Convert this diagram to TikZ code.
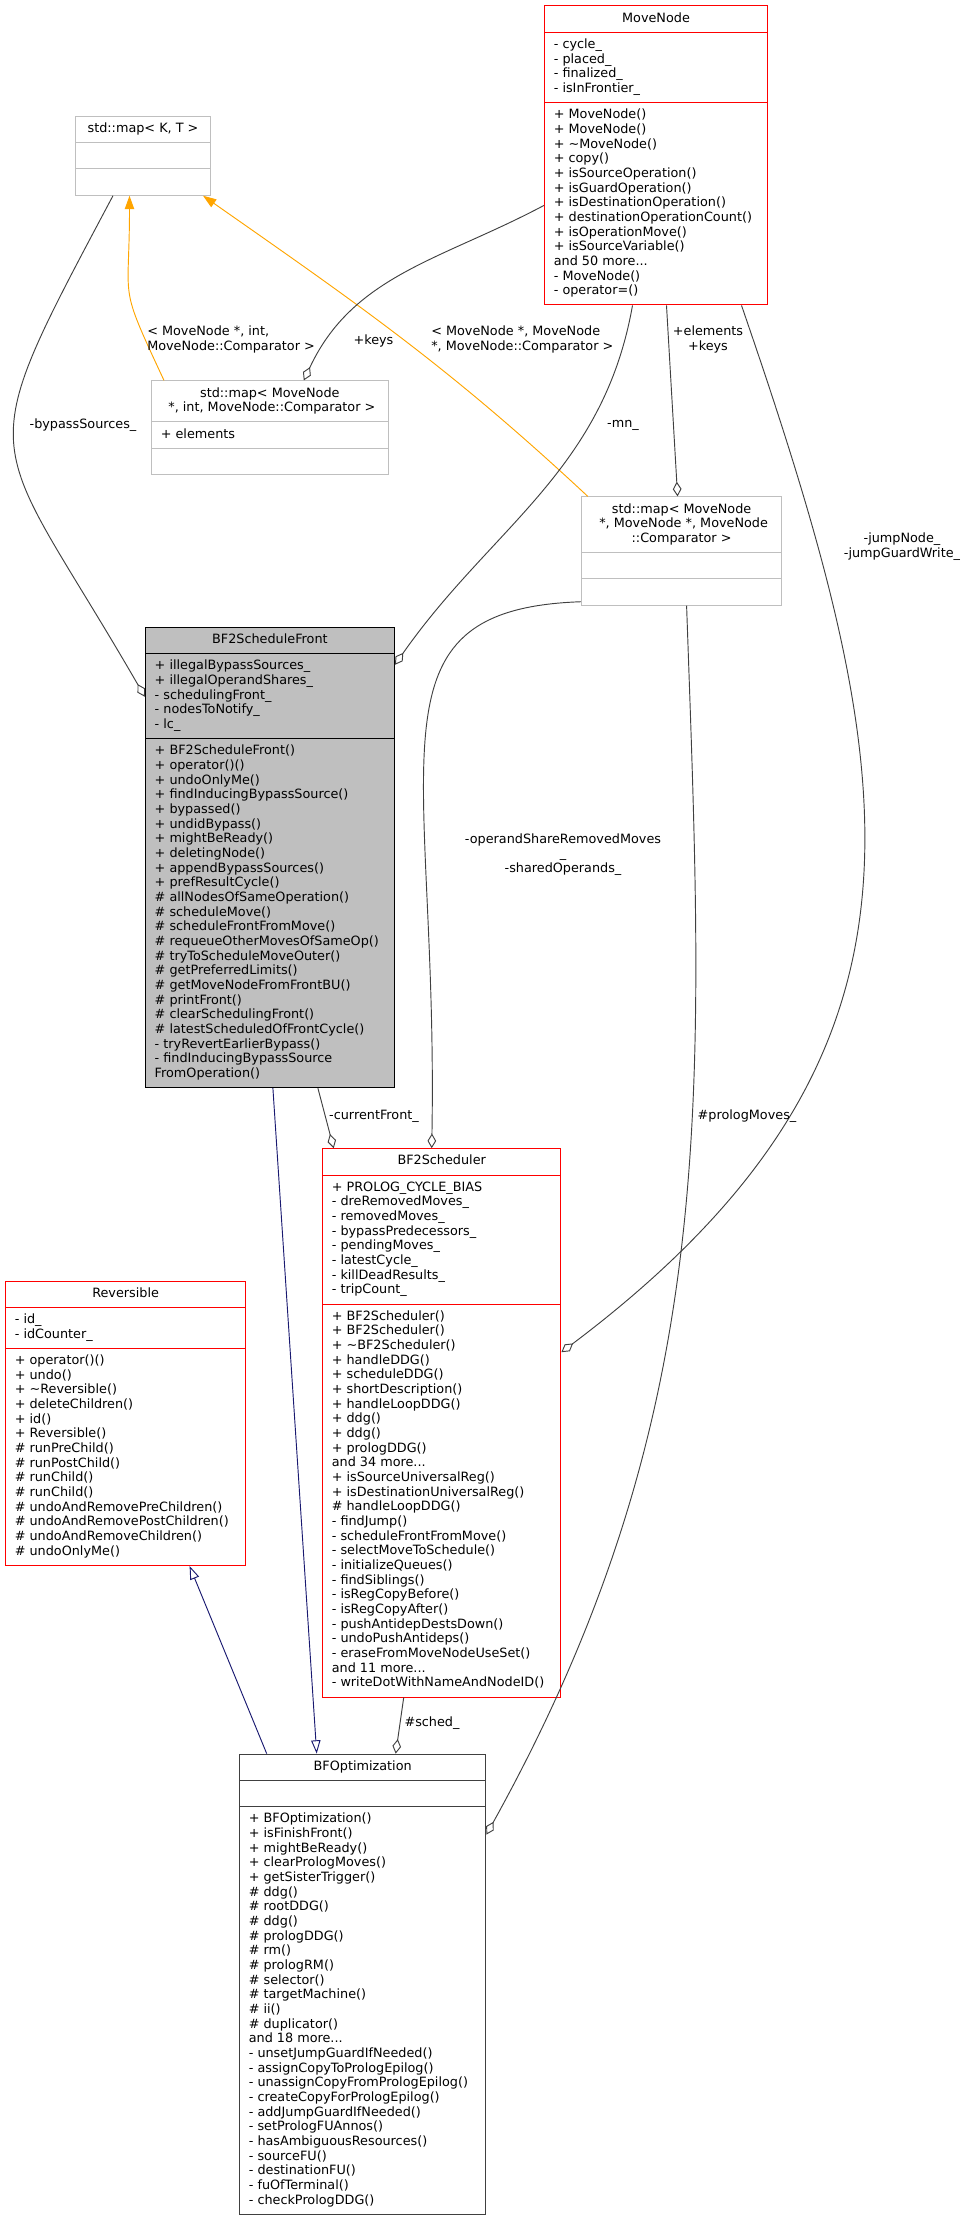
\documentclass[tikz,border=0pt]{standalone}
\usepackage{fontspec}
\setmainfont{DejaVu Sans}
\usetikzlibrary{shapes.multipart,arrows.meta,calc}

\definecolor{edgegray}{HTML}{404040}
\definecolor{tplorange}{HTML}{FFA500}
\definecolor{inhblue}{HTML}{191970}
\definecolor{boxgray}{HTML}{BFBFBF}

\newcommand{\mlines}[1]{\begin{tabular}{@{}l@{}}#1\end{tabular}}
\newcommand{\clines}[1]{\begin{tabular}{@{}c@{}}#1\end{tabular}}

\tikzset{
  umlclass/.style={rectangle split, rectangle split parts=3, draw, fill=white,
    anchor=north west, font=\fontsize{9.6}{11}\selectfont, inner xsep=7pt, inner ysep=4pt,
    rectangle split part align={center,left,left}, line width=0.75pt},
  lbl/.style={font=\fontsize{9.6}{11}\selectfont, inner sep=0pt},
  assoc/.style={draw=edgegray, line width=0.7pt, -{Diamond[open,length=11pt,width=6.5pt]}},
  tmpl/.style={draw=tplorange, line width=0.7pt, -{Triangle[length=10pt,width=7pt]}},
  inheritline/.style={draw=inhblue, line width=0.7pt, -{Triangle[open,length=10pt,width=7pt]}}
}

\begin{document}
\begin{tikzpicture}[x=0.75pt,y=-0.75pt]
    \useasboundingbox (0,0) rectangle (971,2221);

    \node[umlclass, draw=red, minimum width=167.25pt] (movenode) at (544,5.4)
        {\clines{MoveNode}
        \nodepart{second}\mlines{- cycle\_\\- placed\_\\- finalized\_\\- isInFrontier\_}
        \nodepart{third}\mlines{+ MoveNode()\\+ MoveNode()\\+ \textasciitilde MoveNode()\\+ copy()\\+ isSourceOperation()\\+ isGuardOperation()\\+ isDestinationOperation()\\+ destinationOperationCount()\\+ isOperationMove()\\+ isSourceVariable()\\and 50 more...\\- MoveNode()\\- operator=()}};
    \node[umlclass, draw=boxgray, minimum width=101.25pt] (mapkt) at (75,115.7)
        {\clines{std::map< K, T >}
        \nodepart{second}\mlines{\strut}
        \nodepart{third}\mlines{\strut}};
    \node[umlclass, draw=boxgray, minimum width=177.45pt] (mapint) at (151,380.4)
        {\clines{std::map< MoveNode\\{} *, int, MoveNode::Comparator >}
        \nodepart{second}\mlines{+ elements}
        \nodepart{third}\mlines{\strut}};
    \node[umlclass, draw=boxgray, minimum width=150.45pt] (mapmn) at (580.8,496.4)
        {\clines{std::map< MoveNode\\{} *, MoveNode *, MoveNode\\::Comparator >}
        \nodepart{second}\mlines{\strut}
        \nodepart{third}\mlines{\strut}};
    \node[umlclass, draw=black, fill=boxgray, minimum width=186.75pt] (front) at (144.9,626.8)
        {\clines{BF2ScheduleFront}
        \nodepart{second}\mlines{+ illegalBypassSources\_\\+ illegalOperandShares\_\\- schedulingFront\_\\- nodesToNotify\_\\- lc\_}
        \nodepart{third}\mlines{+ BF2ScheduleFront()\\+ operator()()\\+ undoOnlyMe()\\+ findInducingBypassSource()\\+ bypassed()\\+ undidBypass()\\+ mightBeReady()\\+ deletingNode()\\+ appendBypassSources()\\+ prefResultCycle()\\\# allNodesOfSameOperation()\\\# scheduleMove()\\\# scheduleFrontFromMove()\\\# requeueOtherMovesOfSameOp()\\\# tryToScheduleMoveOuter()\\\# getPreferredLimits()\\\# getMoveNodeFromFrontBU()\\\# printFront()\\\# clearSchedulingFront()\\\# latestScheduledOfFrontCycle()\\- tryRevertEarlierBypass()\\- findInducingBypassSource\\FromOperation()}};
    \node[umlclass, draw=red, minimum width=178.8pt] (sched) at (322,1148.2)
        {\clines{BF2Scheduler}
        \nodepart{second}\mlines{+ PROLOG\_CYCLE\_BIAS\\- dreRemovedMoves\_\\- removedMoves\_\\- bypassPredecessors\_\\- pendingMoves\_\\- latestCycle\_\\- killDeadResults\_\\- tripCount\_}
        \nodepart{third}\mlines{+ BF2Scheduler()\\+ BF2Scheduler()\\+ \textasciitilde BF2Scheduler()\\+ handleDDG()\\+ scheduleDDG()\\+ shortDescription()\\+ handleLoopDDG()\\+ ddg()\\+ ddg()\\+ prologDDG()\\and 34 more...\\+ isSourceUniversalReg()\\+ isDestinationUniversalReg()\\\# handleLoopDDG()\\- findJump()\\- scheduleFrontFromMove()\\- selectMoveToSchedule()\\- initializeQueues()\\- findSiblings()\\- isRegCopyBefore()\\- isRegCopyAfter()\\- pushAntidepDestsDown()\\- undoPushAntideps()\\- eraseFromMoveNodeUseSet()\\and 11 more...\\- writeDotWithNameAndNodeID()}};
    \node[umlclass, draw=red, minimum width=180.15pt] (rev) at (5,1280.7)
        {\clines{Reversible}
        \nodepart{second}\mlines{- id\_\\- idCounter\_}
        \nodepart{third}\mlines{+ operator()()\\+ undo()\\+ \textasciitilde Reversible()\\+ deleteChildren()\\+ id()\\+ Reversible()\\\# runPreChild()\\\# runPostChild()\\\# runChild()\\\# runChild()\\\# undoAndRemovePreChildren()\\\# undoAndRemovePostChildren()\\\# undoAndRemoveChildren()\\\# undoOnlyMe()}};
    \node[umlclass, draw=edgegray, minimum width=184.8pt] (bfopt) at (239,1753.6)
        {\clines{BFOptimization}
        \nodepart{second}\mlines{\strut}
        \nodepart{third}\mlines{+ BFOptimization()\\+ isFinishFront()\\+ mightBeReady()\\+ clearPrologMoves()\\+ getSisterTrigger()\\\# ddg()\\\# rootDDG()\\\# ddg()\\\# prologDDG()\\\# rm()\\\# prologRM()\\\# selector()\\\# targetMachine()\\\# ii()\\\# duplicator()\\and 18 more...\\- unsetJumpGuardIfNeeded()\\- assignCopyToPrologEpilog()\\- unassignCopyFromPrologEpilog()\\- createCopyForPrologEpilog()\\- addJumpGuardIfNeeded()\\- setPrologFUAnnos()\\- hasAmbiguousResources()\\- sourceFU()\\- destinationFU()\\- fuOfTerminal()\\- checkPrologDDG()}};

    % template instances
    \draw[tmpl] ($(mapint.north west)+(13,0)$) to[out=115,in=270,looseness=1.5] ($(mapkt.south)+(-13.5,0)$);
    \draw[tmpl] ($(mapmn.north west)+(7,0)$) to[out=137,in=-35] ($(mapkt.south east)+(-8,0)$);

    % members
    \draw[assoc] ($(mapkt.south)+(-30,0)$) to[out=242,in=120,looseness=1.6] ($(front.north west)+(0,70)$);
    \draw[assoc] ($(movenode.north west)+(0,200)$) to[out=208,in=65] ($(mapint.north)+(34,0)$);
    \draw[assoc] ($(movenode.south)+(-23.5,0)$) to[out=260,in=55] ($(front.north east)+(0,38)$);
    \draw[assoc] ($(movenode.south)+(10.5,0)$) -- ($(mapmn.north)+(-4,0)$);
    \draw[assoc] ($(movenode.south)+(85.5,0)$) to[out=-71,in=37,looseness=1.2] ($(sched.north east)+(0,204)$);
    \draw[assoc] ($(mapmn.south west)+(0,-4)$) to[out=182,in=89,out distance=166pt,in distance=291pt] ($(sched.north)+(-10,0)$);
    \draw[assoc] ($(mapmn.south)+(5,0)$) to[out=272,in=61] ($(bfopt.north east)+(0,81)$);
    \draw[assoc] ($(front.south)+(48,0)$) -- ($(sched.north)+(-108,0)$);
    \draw[assoc] ($(sched.south)+(-38,0)$) -- ($(bfopt.north)+(33,0)$);

    % inheritance
    \draw[inheritline] ($(front.south)+(3,0)$) -- ($(bfopt.north)+(-46,0)$);
    \draw[inheritline] ($(bfopt.north)+(-96,0)$) -- ($(rev.south)+(64,0)$);

    \node[lbl] (lbypass) at (83,425) {-bypassSources\_};
    \node[lbl, anchor=west] (lmapint) at (147,340) {\mlines{< MoveNode *, int,\\MoveNode::Comparator >}};
    \node[lbl] (lkeys) at (373.5,341) {+keys};
    \node[lbl, anchor=west] (lmapmn) at (431,340) {\mlines{< MoveNode *, MoveNode\\{}*, MoveNode::Comparator >}};
    \node[lbl] (lmn) at (623,425) {-mn\_};
    \node[lbl] (lelements) at (708,340) {\clines{+elements\\+keys}};
    \node[lbl] (ljump) at (902,547) {\clines{-jumpNode\_\\-jumpGuardWrite\_}};
    \node[lbl] (loperand) at (563,855) {\clines{-operandShareRemovedMoves\\\_\\-sharedOperands\_}};
    \node[lbl] (lprolog) at (747,1116) {\#prologMoves\_};
    \node[lbl] (lcurrent) at (374,1116) {-currentFront\_};
    \node[lbl] (lsched) at (432,1723) {\#sched\_};
\end{tikzpicture}
\end{document}
